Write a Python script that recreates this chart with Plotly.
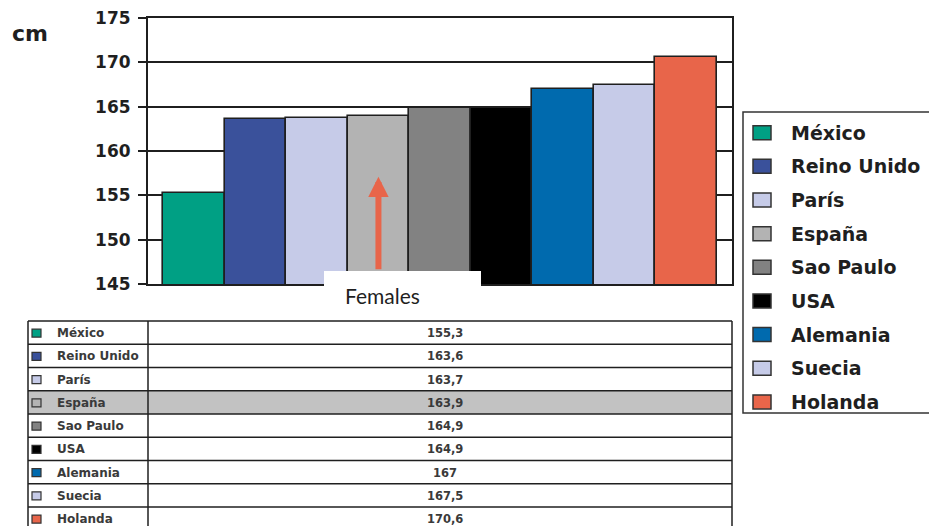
import plotly.graph_objects as go

# ---- data -------------------------------------------------------------
countries = ["México", "Reino Unido", "París", "España", "Sao Paulo",
             "USA", "Alemania", "Suecia", "Holanda"]
heights_cm = [155.3, 163.6, 163.7, 163.9, 164.9, 164.9, 167, 167.5, 170.6]
bar_colors = ["#00a084", "#3a519b", "#c6cbe8", "#b3b3b3", "#828282",
              "#000000", "#006aae", "#c6cbe8", "#e8654a"]
y_ticks = [145, 150, 155, 160, 165, 170, 175]
highlight = "España"
caption = "Females"
unit = "cm"

# ---- page geometry (pixels) -------------------------------------------
W, H = 929, 526
def px(x):
    return x / W
def py(y):
    return 1 - y / H

plot_left, plot_right, plot_top, plot_bottom = 148, 732, 18, 284
bar_pad = 15 / 61.555  # empty space between axis frame and outer bars (in bar widths)

FONT = "DejaVu Sans"
INK = "#1f1f1f"

fig = go.Figure()

fig.add_trace(go.Bar(
    x=list(range(len(countries))),
    y=heights_cm,
    width=1,
    marker=dict(color=bar_colors, line=dict(color=INK, width=1.6)),
    hovertext=countries,
    showlegend=False,
))

shapes = []
annotations = []

# ---- arrow pointing at the highlighted bar ------------------------------
hi = countries.index(highlight)
annotations.append(dict(
    x=hi, y=157.1, ax=hi, ay=146.5,
    xref="x", yref="y", axref="x", ayref="y",
    text="", showarrow=True,
    arrowhead=2, arrowsize=0.68, arrowwidth=6, arrowcolor="#e8654a",
))

# white caption box under the arrow
shapes.append(dict(type="rect", xref="paper", yref="paper",
                   x0=px(324), x1=px(481), y0=py(309), y1=py(271),
                   fillcolor="white", line=dict(width=0), layer="above"))
annotations.append(dict(x=px(382), y=py(295), xref="paper", yref="paper",
                        text=caption, showarrow=False,
                        xanchor="center", yanchor="middle",
                        font=dict(family="Lato", size=21, color=INK)))

# unit label
annotations.append(dict(x=px(10), y=py(33), xref="paper", yref="paper",
                        text=unit, showarrow=False, xanchor="left", yanchor="middle",
                        font=dict(family=FONT, size=22, color=INK, weight="bold")))

# ---- legend box on the right ------------------------------------------------
shapes.append(dict(type="rect", xref="paper", yref="paper",
                   x0=px(743), x1=px(945), y0=py(413), y1=py(112),
                   fillcolor="white", line=dict(color="#333333", width=1.5)))
leg_first, leg_step = 132.7, 33.65
for i, (name, col) in enumerate(zip(countries, bar_colors)):
    cy = leg_first + i * leg_step
    shapes.append(dict(type="rect", xref="paper", yref="paper",
                       x0=px(753), x1=px(771), y0=py(cy + 7), y1=py(cy - 7),
                       fillcolor=col, line=dict(color="#333333", width=1.5)))
    annotations.append(dict(x=px(789), y=py(cy), xref="paper", yref="paper",
                            text=name, showarrow=False,
                            xanchor="left", yanchor="middle",
                            font=dict(family=FONT, size=19, color=INK, weight="bold")))

# ---- data table under the chart ------------------------------------------
t_left, t_mid, t_right, t_top, row_h = 28, 148, 732, 321, 23.25
n = len(countries)
t_bottom = t_top + n * row_h
shapes.append(dict(type="rect", xref="paper", yref="paper",
                   x0=px(t_left), x1=px(t_right),
                   y0=py(t_top + (hi + 1) * row_h), y1=py(t_top + hi * row_h),
                   fillcolor="#c2c2c2", line=dict(width=0)))
for i in range(n + 1):
    yy = t_top + i * row_h
    shapes.append(dict(type="line", xref="paper", yref="paper",
                       x0=px(t_left), x1=px(t_right), y0=py(yy), y1=py(yy),
                       line=dict(color=INK, width=1.5)))
for xx in (t_left, t_mid, t_right):
    shapes.append(dict(type="line", xref="paper", yref="paper",
                       x0=px(xx), x1=px(xx), y0=py(t_top), y1=py(t_bottom),
                       line=dict(color=INK, width=1.5)))

for i, (name, col, val) in enumerate(zip(countries, bar_colors, heights_cm)):
    cy = t_top + (i + 0.5) * row_h + 0.5
    shapes.append(dict(type="rect", xref="paper", yref="paper",
                       x0=px(32), x1=px(41), y0=py(cy + 4), y1=py(cy - 4),
                       fillcolor=col, line=dict(color="#333333", width=1.2)))
    annotations.append(dict(x=px(55), y=py(cy), xref="paper", yref="paper",
                            text=name, showarrow=False,
                            xanchor="left", yanchor="middle",
                            font=dict(family=FONT, size=12, color="#3a3a3a", weight="bold")))
    annotations.append(dict(x=px(445), y=py(cy), xref="paper", yref="paper",
                            text=f"{val:g}".replace(".", ","), showarrow=False,
                            xanchor="center", yanchor="middle",
                            font=dict(family=FONT, size=11.5, color="#3a3a3a", weight="bold")))

fig.update_layout(
    template="none",
    width=W, height=H,
    margin=dict(l=0, r=0, t=0, b=0, pad=0, autoexpand=False),
    paper_bgcolor="white", plot_bgcolor="white",
    shapes=shapes, annotations=annotations,
    bargap=0,
    xaxis=dict(
        domain=[px(plot_left), px(plot_right)],
        range=[-0.5 - bar_pad, n - 0.5 + bar_pad],
        automargin=False,
        showticklabels=False, ticks="", showgrid=False, zeroline=False,
        showline=True, mirror=True, linecolor=INK, linewidth=2,
    ),
    yaxis=dict(
        domain=[py(plot_bottom), py(plot_top)],
        range=[y_ticks[0], y_ticks[-1]],
        automargin=False,
        tickvals=y_ticks, ticks="outside", ticklen=8, tickwidth=2, tickcolor=INK,
        ticklabelstandoff=4,
        tickfont=dict(family=FONT, size=17, color=INK, weight="bold"),
        showgrid=True, gridcolor=INK, gridwidth=2, zeroline=False,
        showline=True, mirror=True, linecolor=INK, linewidth=2,
    ),
)

fig.write_html("out.html")
